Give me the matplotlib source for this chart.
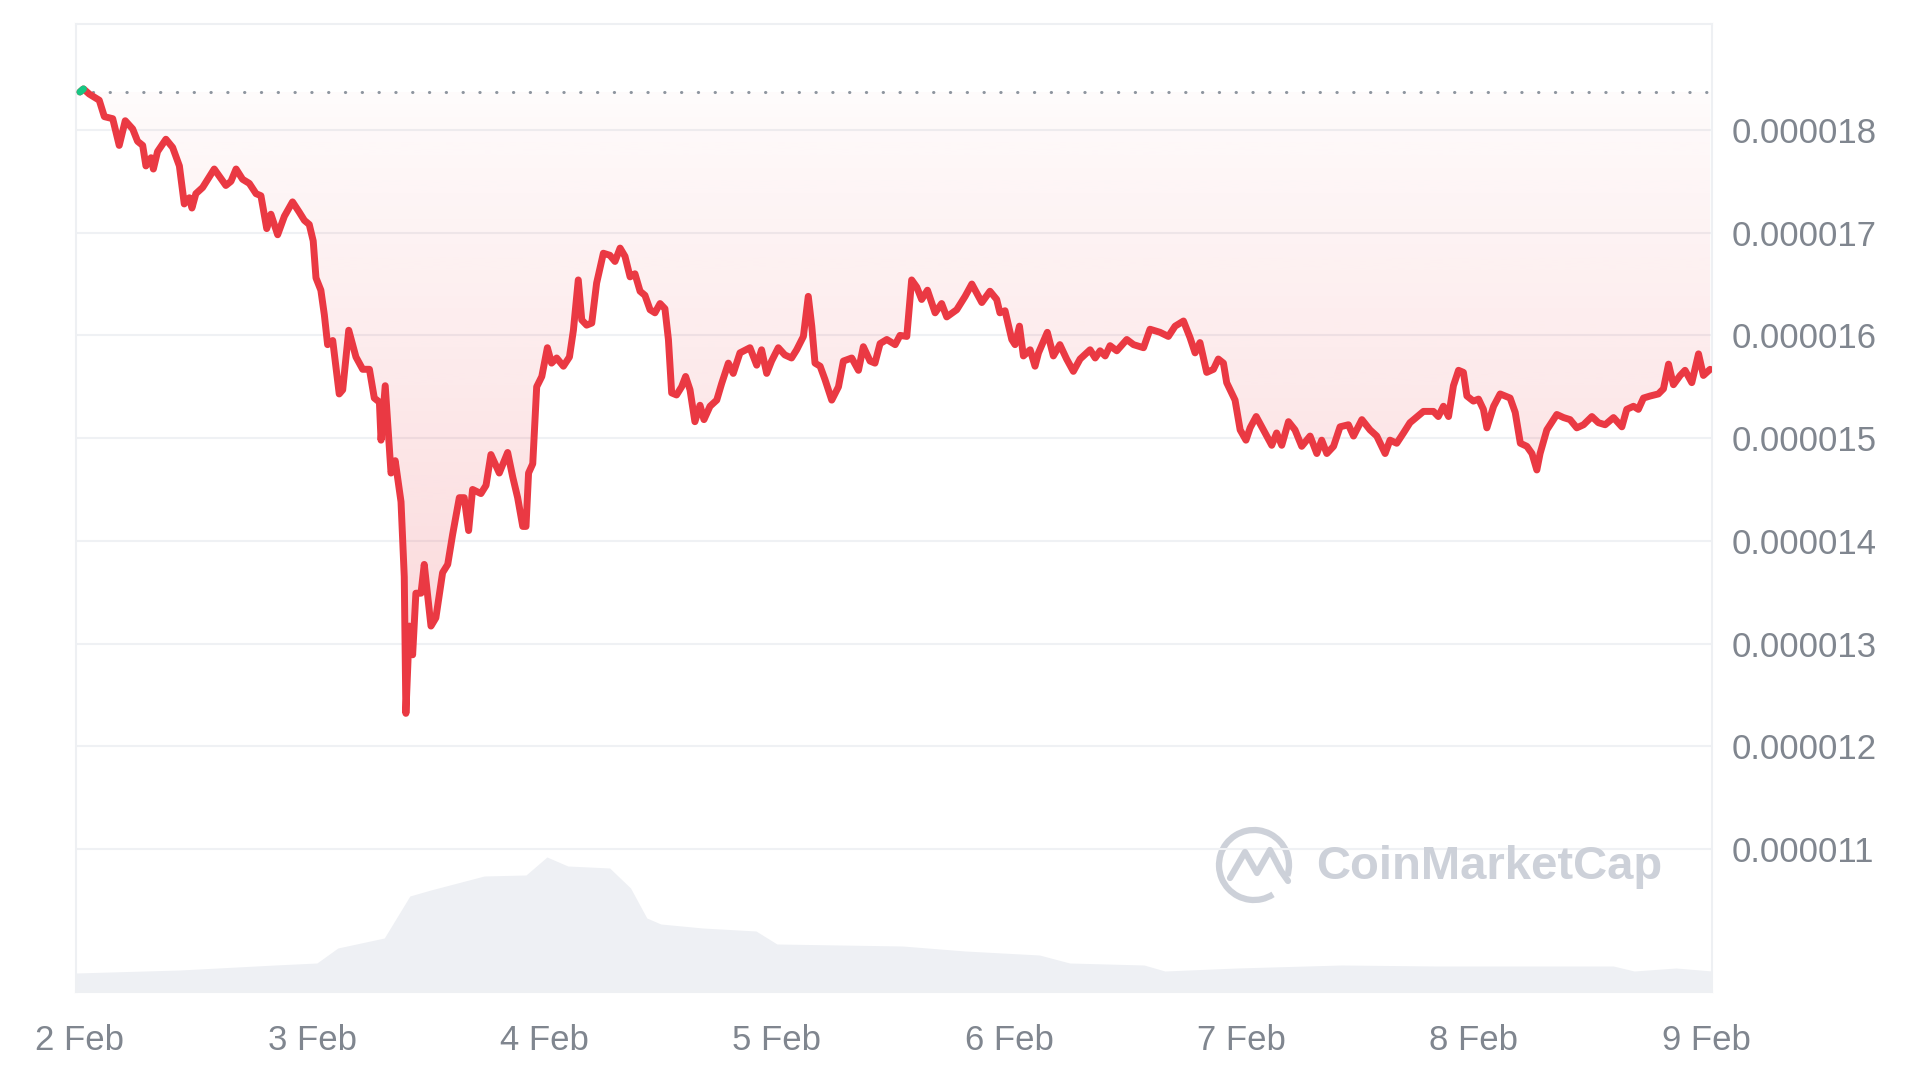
import numpy as np
import matplotlib
matplotlib.use("Agg")
import matplotlib.pyplot as plt
from matplotlib.patches import PathPatch, Arc
from matplotlib.lines import Line2D
from matplotlib.ticker import FuncFormatter

# ---------------- data ----------------
# time axis: days after 2 Feb 00:00
price_days = [
    0.000, 0.015, 0.040, 0.083, 0.105, 0.141, 0.169, 0.195, 0.227, 0.248, 0.270, 0.284, 0.306, 0.316,
    0.334, 0.370, 0.399, 0.428, 0.449, 0.471, 0.482, 0.499, 0.528, 0.578, 0.628, 0.650, 0.672, 0.700,
    0.729, 0.758, 0.779, 0.804, 0.822, 0.851, 0.880, 0.915, 0.944, 0.966, 0.987, 1.004, 1.016, 1.037,
    1.052, 1.066, 1.088, 1.116, 1.131, 1.157, 1.188, 1.217, 1.246, 1.267, 1.289, 1.296, 1.314, 1.339,
    1.357, 1.382, 1.396, 1.403, 1.418, 1.432, 1.446, 1.468, 1.482, 1.511, 1.532, 1.561, 1.583, 1.604,
    1.633, 1.654, 1.673, 1.690, 1.726, 1.748, 1.769, 1.805, 1.841, 1.863, 1.884, 1.906, 1.920,
    1.931, 1.949, 1.966, 1.988, 2.012, 2.030, 2.052, 2.081, 2.107, 2.124, 2.145, 2.160, 2.181, 2.203,
    2.224, 2.253, 2.281, 2.303, 2.325, 2.346, 2.368, 2.389, 2.411, 2.432, 2.454, 2.475, 2.497, 2.518,
    2.533, 2.547, 2.568, 2.590, 2.607, 2.626, 2.647, 2.669, 2.686, 2.712, 2.741, 2.762, 2.791, 2.812,
    2.841, 2.884, 2.913, 2.934, 2.956, 2.977, 3.006, 3.034, 3.063, 3.085, 3.114, 3.135, 3.150, 3.164,
    3.186, 3.207, 3.236, 3.265, 3.286, 3.322, 3.351, 3.372, 3.401, 3.422, 3.444, 3.473, 3.509, 3.530,
    3.559, 3.580, 3.602, 3.623, 3.648, 3.681, 3.709, 3.731, 3.774,
    3.810, 3.839, 3.882, 3.917, 3.946, 3.960, 3.982, 4.011, 4.025, 4.044, 4.061, 4.090, 4.111, 4.126,
    4.164, 4.190, 4.218, 4.247, 4.276, 4.305, 4.348, 4.370, 4.391, 4.413, 4.434, 4.463, 4.506, 4.535,
    4.578, 4.606, 4.649, 4.685, 4.714, 4.750, 4.778, 4.800, 4.821, 4.850, 4.879, 4.900, 4.922, 4.936,
    4.972, 4.994, 5.019, 5.037, 5.063, 5.094, 5.130, 5.151, 5.173, 5.202, 5.230, 5.259, 5.295, 5.324,
    5.345, 5.367, 5.396,
    5.424, 5.460, 5.482, 5.518, 5.553, 5.582, 5.618, 5.639, 5.668, 5.697, 5.725, 5.783, 5.826, 5.847,
    5.869, 5.891, 5.912, 5.934, 5.955, 5.970, 5.998, 6.020, 6.041, 6.056, 6.085, 6.113, 6.156, 6.178,
    6.200, 6.228, 6.250, 6.271, 6.285, 6.314, 6.357, 6.386, 6.414, 6.443, 6.472, 6.508, 6.536, 6.565,
    6.601, 6.637, 6.658, 6.687, 6.708, 6.730, 6.759, 6.794, 6.816, 6.838, 6.859, 6.888, 6.909, 6.938,
    6.967, 6.988, 7.017,
]
# price in millionths of a dollar (x 1e-6 USD)
price_micro = [
    18.37, 18.40, 18.35, 18.29, 18.13, 18.11, 17.85, 18.09, 18.01, 17.89, 17.85, 17.65, 17.73, 17.62,
    17.79, 17.91, 17.83, 17.65, 17.28, 17.34, 17.24, 17.38, 17.44, 17.62, 17.46, 17.50, 17.62, 17.52,
    17.48, 17.38, 17.36, 17.04, 17.18, 16.98, 17.16, 17.30, 17.20, 17.12, 17.08, 16.92, 16.56, 16.44,
    16.20, 15.91, 15.95, 15.43, 15.47, 16.05, 15.79, 15.67, 15.67, 15.39, 15.35, 14.98, 15.51, 14.66,
    14.78, 14.38, 13.65, 12.32, 13.17, 12.89, 13.49, 13.49, 13.77, 13.17, 13.25, 13.69, 13.77, 14.06,
    14.42, 14.42, 14.10, 14.50, 14.46, 14.54, 14.84, 14.66, 14.86, 14.62, 14.42, 14.14, 14.14,
    14.66, 14.75, 15.50, 15.60, 15.88, 15.73, 15.78, 15.70, 15.79, 16.05, 16.54, 16.15, 16.10, 16.12,
    16.51, 16.80, 16.78, 16.72, 16.85, 16.77, 16.57, 16.60, 16.43, 16.39, 16.25, 16.22, 16.31, 16.26,
    15.96, 15.44, 15.42, 15.50, 15.60, 15.47, 15.16, 15.32, 15.18, 15.31, 15.37, 15.53, 15.73, 15.63,
    15.83, 15.88, 15.71, 15.86, 15.63, 15.75, 15.88, 15.81, 15.78, 15.86, 15.99, 16.38, 16.09, 15.73,
    15.70, 15.57, 15.37, 15.50, 15.75, 15.78, 15.66, 15.89, 15.75, 15.73, 15.92, 15.96, 15.91, 16.00,
    15.99, 16.54, 16.47, 16.35, 16.44, 16.22, 16.31, 16.18, 16.25,
    16.38, 16.50, 16.32, 16.43, 16.35, 16.22, 16.24, 15.96, 15.91, 16.09, 15.80, 15.86, 15.70, 15.83,
    16.03, 15.80, 15.91, 15.77, 15.65, 15.77, 15.86, 15.78, 15.85, 15.80, 15.90, 15.85, 15.96, 15.91,
    15.88, 16.06, 16.03, 15.99, 16.09, 16.14, 15.98, 15.83, 15.93, 15.64, 15.67, 15.77, 15.73, 15.54,
    15.37, 15.08, 14.98, 15.10, 15.21, 15.08, 14.93, 15.05, 14.93, 15.16, 15.08, 14.92, 15.02, 14.85,
    14.98, 14.85, 14.92,
    15.11, 15.13, 15.02, 15.18, 15.08, 15.02, 14.85, 14.98, 14.95, 15.05, 15.15, 15.26, 15.26, 15.21,
    15.31, 15.21, 15.51, 15.66, 15.64, 15.41, 15.36, 15.38, 15.28, 15.10, 15.31, 15.43, 15.39, 15.25,
    14.95, 14.92, 14.85, 14.69, 14.85, 15.08, 15.23, 15.20, 15.18, 15.10, 15.13, 15.21, 15.15, 15.13,
    15.20, 15.11, 15.28, 15.31, 15.28, 15.39, 15.41, 15.43, 15.48, 15.72, 15.52, 15.61, 15.66, 15.54,
    15.82, 15.61, 15.67,
]
# opening (reference) price, x 1e-6 USD
open_micro = 18.37

# trading volume (relative units)
vol_days = [-0.017, 0.43, 0.84, 1.02, 1.11, 1.31, 1.42, 1.51, 1.74, 1.92, 2.01, 2.10, 2.28, 2.37, 2.44,
            2.50, 2.68, 2.91, 3.00, 3.54, 3.81, 4.13, 4.26, 4.58, 4.67, 4.98, 5.43, 5.84, 6.60,
            6.69, 6.87, 7.025]
vol_rel = [19, 22, 27, 29, 44, 54, 96, 102, 116, 117, 135, 126, 124, 104, 74,
           68, 64, 61, 48, 46, 41, 37, 29, 27, 21, 24, 27, 26, 26,
           21, 24, 21]

x_tick_days = [0, 1, 2, 3, 4, 5, 6, 7]
x_tick_labels = ["2 Feb", "3 Feb", "4 Feb", "5 Feb", "6 Feb", "7 Feb", "8 Feb", "9 Feb"]
y_tick_micro = [11, 12, 13, 14, 15, 16, 17, 18]

# ---------------- style ----------------
RED = "#EA3943"
GREEN = "#16C784"
GRID = "#EFF1F4"
LABEL = "#80868F"
VOLC = "#EEF0F4"
WM = "#CDD1D9"
FONT = "Liberation Sans"

W, H = 1920, 1080
fig = plt.figure(figsize=(W / 100, H / 100), dpi=100)
fig.patch.set_facecolor("white")

L, R, T, B = 76, 1712, 24, 992
pos = [L / W, 1 - B / H, (R - L) / W, (B - T) / H]

x = np.array(price_days)
price = np.array(price_micro) * 1e-6
base = open_micro * 1e-6
xlim = (-0.017, 7.025)
ylim = (9.607e-6, 19.032e-6)

# volume axes (behind)
axv = fig.add_axes(pos, zorder=0)
vd = np.array(vol_days)
vv = np.array(vol_rel, dtype=float)
axv.fill_between(vd, 0, vv, color=VOLC, lw=0)
axv.set_xlim(*xlim)
axv.set_ylim(0, max(vol_rel) * 7.17)
axv.axis("off")

# price axes
ax = fig.add_axes(pos, zorder=1)
ax.patch.set_alpha(0)
ax.set_xlim(*xlim)
ax.set_ylim(*ylim)

ax.set_yticks([v * 1e-6 for v in y_tick_micro])
ax.yaxis.set_major_formatter(FuncFormatter(lambda v, p: f"{v:.6f}"))
ax.yaxis.tick_right()
ax.yaxis.grid(True, color=GRID, lw=1.5, zorder=0)
ax.set_axisbelow(True)
ax.set_xticks(x_tick_days)
ax.set_xticklabels(x_tick_labels)
ax.tick_params(axis="y", length=0, pad=14, labelsize=25, labelcolor=LABEL)
ax.tick_params(axis="x", length=0, pad=23, labelsize=25, labelcolor=LABEL)
for lab in ax.get_xticklabels() + ax.get_yticklabels():
    lab.set_fontfamily(FONT)
for s in ax.spines.values():
    s.set_color("#EEF0F3")
    s.set_linewidth(1.5)

# gradient fill between price and opening price
poly = ax.fill_between(x, price, base, color="none", lw=0)
path = poly.get_paths()[0]
clip = PathPatch(path, transform=ax.transData, facecolor="none", edgecolor="none")
ax.add_patch(clip)
n = 256
grad = np.zeros((n, 1, 4))
grad[:, 0, 0:3] = matplotlib.colors.to_rgb(RED)
grad[:, 0, 3] = np.linspace(0.21, 0.02, n)
pmin = price.min()
im = ax.imshow(grad, extent=[xlim[0], xlim[1], pmin, base], origin="lower",
               aspect="auto", zorder=1, interpolation="bilinear")
im.set_clip_path(clip)
ax.set_xlim(*xlim)
ax.set_ylim(*ylim)

# opening price dotted line
ax.axhline(base, color="#8E959F", lw=2.2, ls=(0, (0.1, 5.4)),
           dash_capstyle="round", zorder=2)

# price line
ax.plot(x, price, color=RED, lw=5.0, solid_joinstyle="round", solid_capstyle="round", zorder=3)
ax.plot(x[:2], price[:2], color=GREEN, lw=5.0, solid_capstyle="round", zorder=4)

# watermark
cx, cy, r = 1254, 865, 35
fig.add_artist(Arc((cx / W, 1 - cy / H), 2 * r / W, 2 * r / H, theta1=-30, theta2=290,
                   color=WM, lw=4.5, transform=fig.transFigure))
mx = [-24, -9, 3, 16, 27, 34]
my = [-13, 13, -8, 15, -6, -16]
fig.add_artist(Line2D([(cx + a) / W for a in mx], [1 - (cy - b) / H for b in my],
                      color=WM, lw=4.5, solid_joinstyle="round", solid_capstyle="round",
                      transform=fig.transFigure))
fig.text(1316 / W, 1 - 867 / H, "CoinMarketCap", ha="left", va="center",
         fontsize=34, fontweight="bold", color=WM, family=FONT)

fig.savefig("out.png", dpi=100, facecolor="white")
